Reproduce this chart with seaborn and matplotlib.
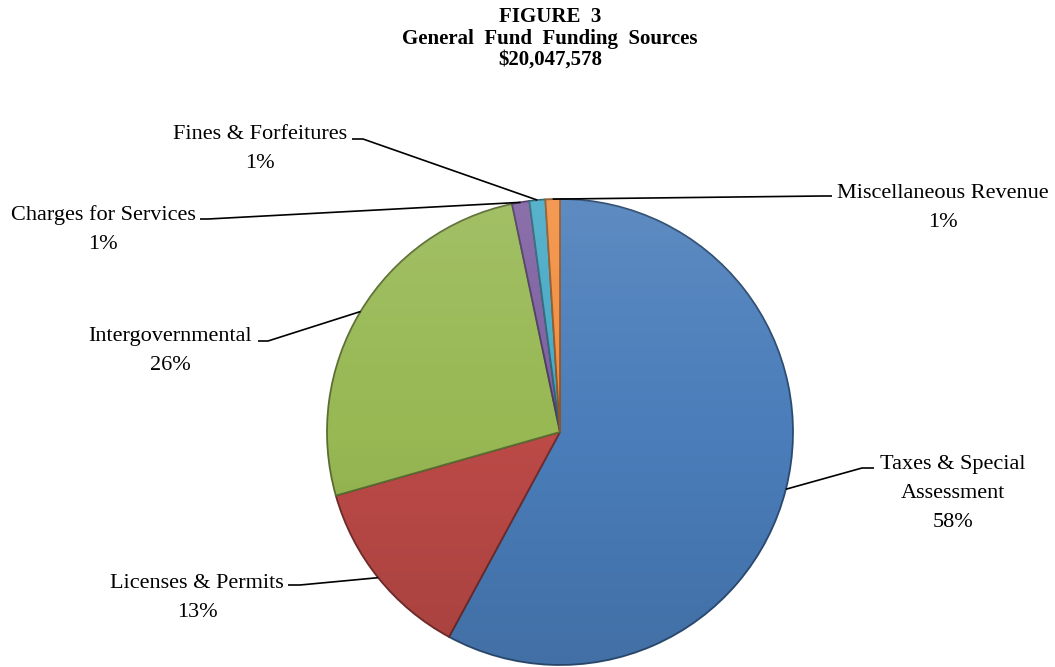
import numpy as np
import matplotlib
matplotlib.use("Agg")
import matplotlib.pyplot as plt
from matplotlib.patches import Circle
import seaborn as sns

# Chart data: share of the general fund by source (percent)
sources = ["Taxes & Special\nAssessment", "Licenses & Permits", "Intergovernmental",
           "Charges for Services", "Fines & Forfeitures", "Miscellaneous Revenue"]
shares = [57.9, 12.7, 26.1, 1.2, 1.1, 1.0]
pct_labels = ["58%", "13%", "26%", "1%", "1%", "1%"]
colors = ["#4A7DBA", "#BC4A47", "#97B853", "#7D5FA0", "#46A9C5", "#F28E3F"]
title_lines = ["FIGURE  3", "General  Fund  Funding  Sources", "$20,047,578"]

# Layout in pixels (origin top-left)
W, H = 1055, 667
pie_cx, pie_cy, pie_r = 560, 432, 233
# text centre x, text top y, stub end x, elbow x, leader y
label_layout = [
    (953, 455, 874, 862, 468),
    (197, 574, 288, 300, 585),
    (170, 327, 258, 268, 341),
    (103, 205, 200, 208, 219),
    (260, 125, 352, 363, 139),
    (943, 184, 832, 822, 196),
]

sns.set_theme(style="white")
plt.rcParams['font.family'] = ['Liberation Serif', 'DejaVu Serif']

fig = plt.figure(figsize=(W / 100, H / 100), dpi=100)
ax = fig.add_axes([0, 0, 1, 1])

palette = sns.color_palette(colors)
edge_cols = [tuple(np.array(c) * 0.6) for c in palette]

wedges, _ = ax.pie(shares, colors=palette, startangle=90, counterclock=False,
                   center=(pie_cx, H - pie_cy), radius=pie_r,
                   wedgeprops=dict(linewidth=1.3))
for w, ec in zip(wedges, edge_cols):
    w.set_edgecolor(ec)

# soft light-to-dark shading over the pie, a bit like the bevel in the original
yy = np.linspace(1, 0, 200)[:, None] * np.ones((1, 200))
shade = np.zeros((200, 200, 4))
shade[..., :3] = np.where(yy[..., None] > 0.5, 1.0, 0.0)
shade[..., 3] = np.abs(yy - 0.5) * 0.22
cx, cy = pie_cx, H - pie_cy
im = ax.imshow(shade, extent=(cx - pie_r, cx + pie_r, cy - pie_r, cy + pie_r),
               origin="upper", zorder=3, interpolation="bilinear")
im.set_clip_path(Circle((cx, cy), pie_r, transform=ax.transData))

ax.set_xlim(0, W)
ax.set_ylim(0, H)
ax.set_aspect('equal')
ax.axis('off')

# labels with leader lines to the middle of each slice edge
for w, name, pct, (tx, ty, sx, ex, ly) in zip(wedges, sources, pct_labels, label_layout):
    mid = np.deg2rad((w.theta1 + w.theta2) / 2)
    axx = w.center[0] + w.r * np.cos(mid)
    ayy = w.center[1] + w.r * np.sin(mid)
    ax.plot([axx, ex, sx], [ayy, H - ly, H - ly], color="black", lw=1.2,
            solid_capstyle="butt", zorder=4)
    ax.text(tx, H - ty, name + "\n" + pct, ha="center", va="top",
            multialignment="center", fontsize=16, linespacing=1.7, color="black")

ax.text(550, H - 7.5, "\n".join(title_lines), ha="center", va="top",
        fontsize=15, fontweight="bold", linespacing=1.08, color="black")

fig.savefig("out.png", dpi=100, facecolor="white")
